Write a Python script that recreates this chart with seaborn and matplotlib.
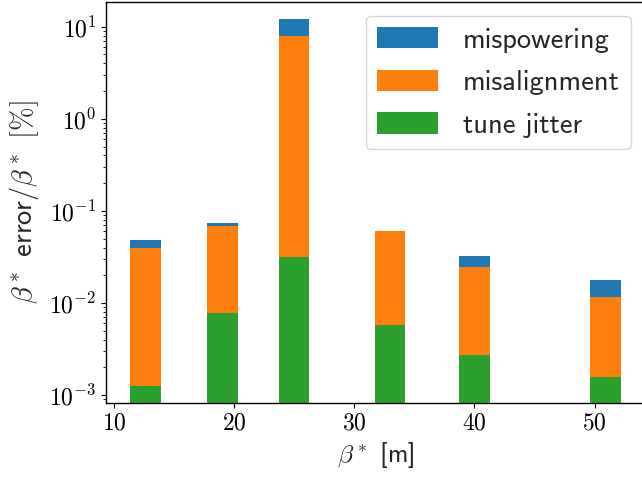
import numpy as np
import pandas as pd
import matplotlib
matplotlib.use("Agg")
import matplotlib.pyplot as plt
from matplotlib.patches import Patch
import seaborn as sns

# ---- data ----
beta_star = [12.65, 19.05, 25.0, 33.0, 40.0, 50.9]           # beta* [m]
tune_jitter = [0.00126, 0.00778, 0.0316, 0.00577, 0.00272, 0.00157]
misalignment = [0.0382, 0.0608, 7.95, 0.0547, 0.0219, 0.0100]
mispowering = [0.0089, 0.0054, 4.14, 0.0, 0.0078, 0.0062]
labels = ["mispowering", "misalignment", "tune jitter"]
colors = ["#1f77b4", "#ff7f0e", "#2ca02c"]

sns.set_style("ticks")
plt.rcParams["font.family"] = ["cmss10", "DejaVu Sans"]
plt.rcParams["mathtext.fontset"] = "cm"
plt.rcParams["axes.formatter.use_mathtext"] = True
plt.rcParams["axes.unicode_minus"] = True
plt.rcParams["axes.edgecolor"] = "black"
plt.rcParams["xtick.color"] = "black"
plt.rcParams["ytick.color"] = "black"

tj = np.array(tune_jitter)
ma = tj + np.array(misalignment)
mp = ma + np.array(mispowering)
df = pd.DataFrame({"beta": beta_star, "tune": tj, "mis": ma, "pow": mp})

fig = plt.figure(figsize=(6.42, 4.8), dpi=100)
ax = fig.add_axes([106 / 642, 77 / 480, (645 - 106) / 642, (403 - 1.5) / 480])
ax.set_yscale("log")

bar_w = 2.53
rel_w = bar_w / np.min(np.diff(np.array(beta_star)))
for col, c in zip(["pow", "mis", "tune"], colors):
    sns.barplot(data=df, x="beta", y=col, native_scale=True, width=rel_w,
                color=c, errorbar=None, ax=ax, saturation=1, linewidth=0)

ax.set_xlim(9.35, 54.19)
ax.set_ylim(8.2e-4, 18.8)
ax.set_xticks([10, 20, 30, 40, 50])
ax.tick_params(axis="both", which="major", labelsize=17, labelfontfamily="cmr10")
ax.set_xlabel(r"$\beta^*$ [m]", fontsize=18.5)
ax.set_ylabel(r"$\beta^*$ error$/\beta^*$ $[\%]$", fontsize=20.5, labelpad=6)
for s in ax.spines.values():
    s.set_linewidth(1.0)

handles = [Patch(facecolor=c, edgecolor="none", label=l) for c, l in zip(colors, labels)]
ax.legend(handles=handles, loc="upper right", fontsize=20.5, handlelength=2.15,
          handleheight=0.77, labelspacing=0.6, handletextpad=0.85,
          frameon=True, fancybox=True, edgecolor="#cccccc", framealpha=0.8)

fig.savefig("out.png", dpi=100)
